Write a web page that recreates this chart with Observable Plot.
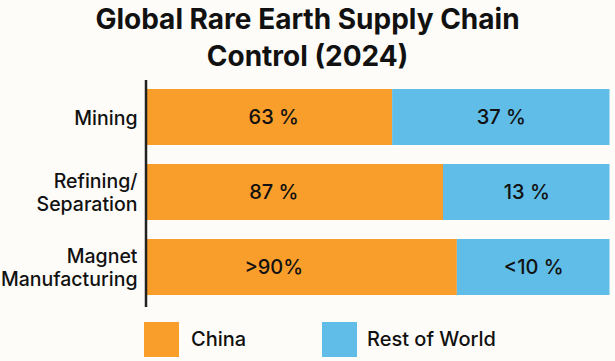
<!DOCTYPE html>
<html><head><meta charset="utf-8">
<script src="https://cdn.jsdelivr.net/npm/d3@7"></script>
<script src="https://cdn.jsdelivr.net/npm/@observablehq/plot@0.6"></script>
<style>
body{margin:0;background:#fdfcf8;font-family:Inter,sans-serif;color:#111;width:615px;height:361px;overflow:hidden}
#title{height:80px;text-align:center;font-weight:650;font-size:28px;line-height:37px;padding-top:1px;box-sizing:border-box}
#chart svg{display:block}
#legend{position:relative;height:51px}
.sw{position:absolute;top:12px;width:35px;height:35px}
.lt{position:absolute;top:12px;line-height:35px;font-size:20px;font-weight:500}
</style></head><body>
<div id="title">Global Rare Earth Supply Chain<br>Control (2024)</div>
<div id="chart"></div>
<div id="legend"></div>
<script>
const stages = ["Mining", "Refining/\nSeparation", "Magnet\nManufacturing"];
const regions = ["China", "Rest of World"];
const chinaShare = [53, 64, 67];
const restShare = [47, 36, 33];
const chinaLabels = ["63 %", "87 %", ">90%"];
const restLabels = ["37 %", "13 %", "<10 %"];
const colors = ["#F99E2B", "#5FBDE7"];

const rows = [];
stages.forEach((s, i) => {
  rows.push({stage: s, region: regions[0], share: chinaShare[i]});
  rows.push({stage: s, region: regions[1], share: restShare[i]});
});
const labelRows = stages.map((s, i) => ({stage: s, china: chinaShare[i], rest: restShare[i], cl: chinaLabels[i], rl: restLabels[i]}));

const chart = Plot.plot({
  width: 615, height: 230,
  marginLeft: 147, marginRight: 5.5, marginTop: 7.3, marginBottom: 14.5,
  style: {fontFamily: "Inter, sans-serif", fontSize: "20px", background: "transparent", color: "#111"},
  x: {domain: [0, 100], axis: null},
  y: {domain: stages, paddingInner: 0.26, paddingOuter: 0, label: null},
  color: {domain: regions, range: colors},
  marks: [
    Plot.barX(rows, {x: "share", y: "stage", fill: "region", order: regions}),
    Plot.axisY({tickSize: 0, tickPadding: 10, lineHeight: 1.16, fontSize: 19.5, fontWeight: 500, fill: "#111", label: null}),
    Plot.ruleX([0], {dx: -1.5, stroke: "#222", strokeWidth: 2.5, insetTop: -7.3, insetBottom: -11.5}),
    Plot.text(labelRows, {x: () => 27.3, y: "stage", text: "cl", fontSize: 20, fontWeight: 500, fill: "#111"}),
    Plot.text(labelRows, {x: d => d.china + d.rest / 2, y: "stage", text: "rl", fontSize: 20, fontWeight: 500, fill: "#111"})
  ]
});
document.getElementById("chart").append(chart);

const legend = document.getElementById("legend");
const legendPos = [[144, 191], [322, 367]];
regions.forEach((r, i) => {
  const sw = document.createElement("div");
  sw.className = "sw"; sw.style.left = legendPos[i][0] + "px"; sw.style.background = colors[i];
  const t = document.createElement("div");
  t.className = "lt"; t.style.left = legendPos[i][1] + "px"; t.textContent = r;
  legend.append(sw, t);
});
</script>
</body></html>
